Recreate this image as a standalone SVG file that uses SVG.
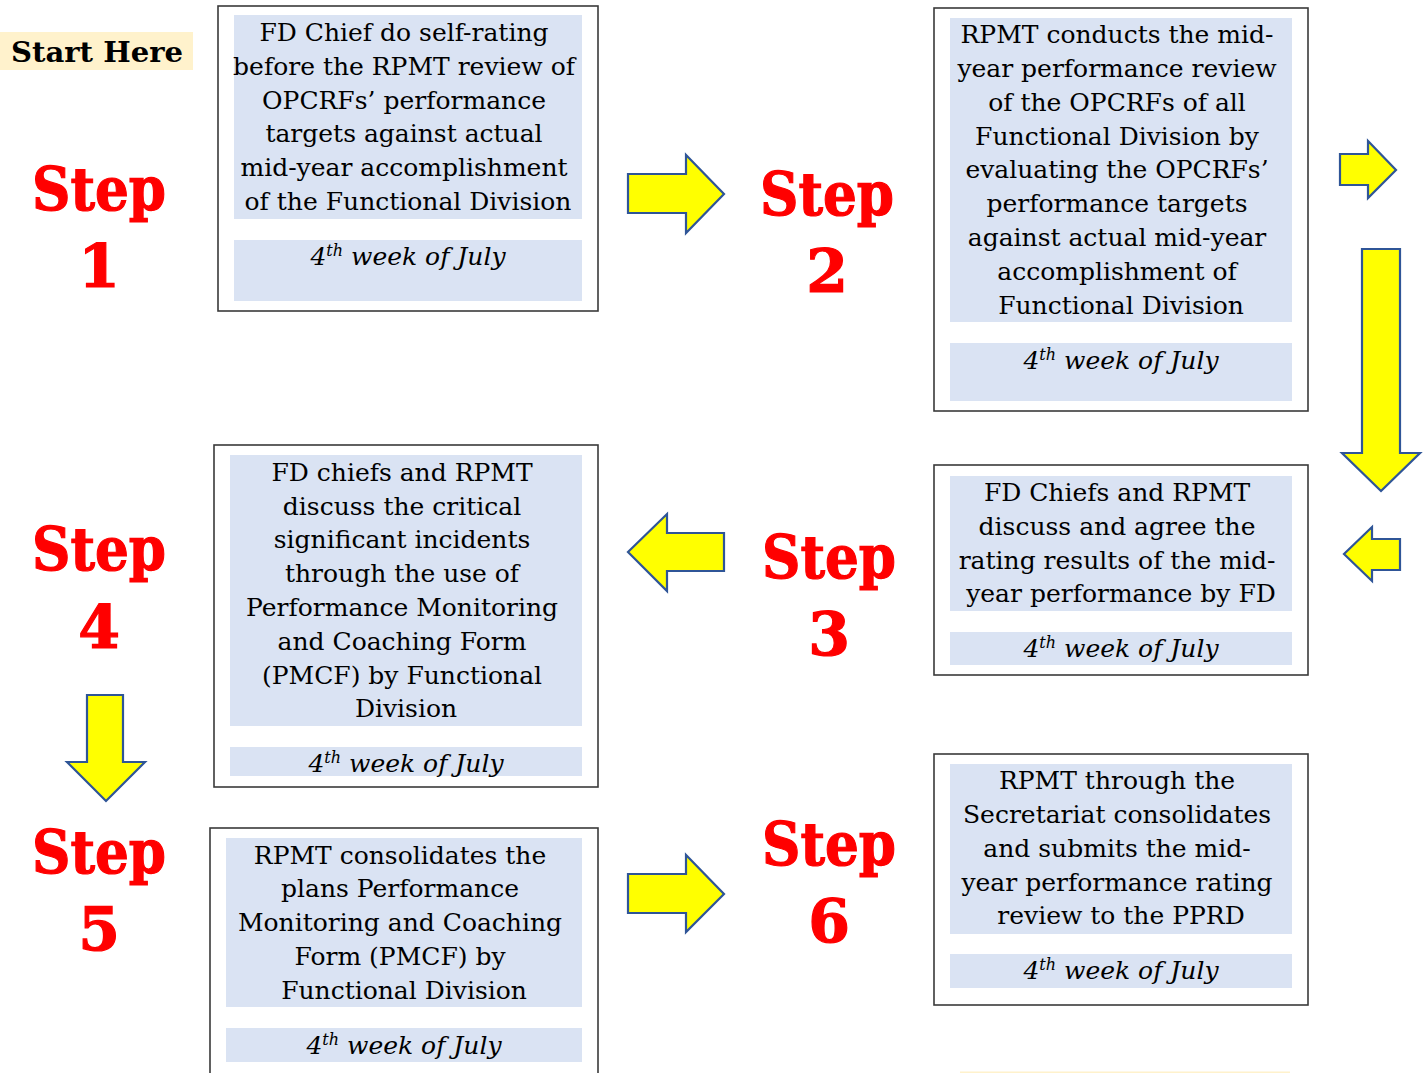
<svg xmlns="http://www.w3.org/2000/svg" width="1426" height="1073" viewBox="0 0 1426 1073">
  <style>
    .frame { fill: #ffffff; stroke: #3a3a3a; stroke-width: 1.6; }
    .band { fill: #dae3f3; }
    .body { font-family: "DejaVu Serif", "Liberation Serif", serif; font-size: 25px; fill: #000; text-anchor: middle; }
    .date { font-family: "DejaVu Serif", "Liberation Serif", serif; font-style: italic; font-size: 25px; fill: #000; text-anchor: middle; }
    .sup { font-size: 16px; }
    .step { font-family: "DejaVu Serif", "Liberation Serif", serif; font-weight: bold; font-size: 60px; fill: #ff0000; text-anchor: middle; stroke: #ff0000; stroke-width: 1.2; }
    .arrow { fill: #ffff00; stroke: #2f5597; stroke-width: 2.2; stroke-linejoin: miter; }
  </style>

  <!-- start label -->
  <g id="start">
    <rect x="0" y="32" width="193" height="38" fill="#fff2cc"/>
    <text x="11" y="62" font-family="DejaVu Serif, serif" font-weight="bold" font-size="27" textLength="172" lengthAdjust="spacingAndGlyphs" fill="#000">Start Here</text>
  </g>

  <!-- step labels -->
  <g id="step1-label">
    <text class="step" x="99" y="210" textLength="134" lengthAdjust="spacingAndGlyphs">Step</text>
    <text class="step" x="99" y="287">1</text>
  </g>
  <g id="step2-label">
    <text class="step" x="827" y="215" textLength="134" lengthAdjust="spacingAndGlyphs">Step</text>
    <text class="step" x="827" y="292">2</text>
  </g>
  <g id="step3-label">
    <text class="step" x="829" y="578" textLength="134" lengthAdjust="spacingAndGlyphs">Step</text>
    <text class="step" x="829" y="655">3</text>
  </g>
  <g id="step4-label">
    <text class="step" x="99" y="570" textLength="134" lengthAdjust="spacingAndGlyphs">Step</text>
    <text class="step" x="99" y="648">4</text>
  </g>
  <g id="step5-label">
    <text class="step" x="99" y="873" textLength="134" lengthAdjust="spacingAndGlyphs">Step</text>
    <text class="step" x="99" y="950">5</text>
  </g>
  <g id="step6-label">
    <text class="step" x="829" y="865" textLength="134" lengthAdjust="spacingAndGlyphs">Step</text>
    <text class="step" x="829" y="942">6</text>
  </g>

  <!-- step 1 box -->
  <g id="box1">
    <rect class="frame" x="218" y="6" width="380" height="305"/>
    <rect class="band" x="234" y="15" width="348" height="204"/>
    <rect class="band" x="234" y="240" width="348" height="61"/>
    <text class="body">
      <tspan x="408" y="41">FD Chief do self-rating</tspan>
      <tspan x="408" y="75">before the RPMT review of</tspan>
      <tspan x="408" y="109">OPCRFs’ performance</tspan>
      <tspan x="408" y="142">targets against actual</tspan>
      <tspan x="408" y="176">mid-year accomplishment</tspan>
      <tspan x="408" y="210">of the Functional Division</tspan>
    </text>
    <text class="date" x="408" y="265">4<tspan class="sup" dy="-9">th</tspan><tspan dy="9"> week of July</tspan></text>
  </g>

  <!-- step 2 box -->
  <g id="box2">
    <rect class="frame" x="934" y="8" width="374" height="403"/>
    <rect class="band" x="950" y="18" width="342" height="304"/>
    <rect class="band" x="950" y="343" width="342" height="58"/>
    <text class="body">
      <tspan x="1121" y="43">RPMT conducts the mid-</tspan>
      <tspan x="1121" y="77">year performance review</tspan>
      <tspan x="1121" y="111">of the OPCRFs of all</tspan>
      <tspan x="1121" y="145">Functional Division by</tspan>
      <tspan x="1121" y="178">evaluating the OPCRFs’</tspan>
      <tspan x="1121" y="212">performance targets</tspan>
      <tspan x="1121" y="246">against actual mid-year</tspan>
      <tspan x="1121" y="280">accomplishment of</tspan>
      <tspan x="1121" y="314">Functional Division</tspan>
    </text>
    <text class="date" x="1121" y="369">4<tspan class="sup" dy="-9">th</tspan><tspan dy="9"> week of July</tspan></text>
  </g>

  <!-- step 3 box -->
  <g id="box3">
    <rect class="frame" x="934" y="465" width="374" height="210"/>
    <rect class="band" x="950" y="476" width="342" height="135"/>
    <rect class="band" x="950" y="632" width="342" height="33"/>
    <text class="body">
      <tspan x="1121" y="501">FD Chiefs and RPMT</tspan>
      <tspan x="1121" y="535">discuss and agree the</tspan>
      <tspan x="1121" y="569">rating results of the mid-</tspan>
      <tspan x="1121" y="602">year performance by FD</tspan>
    </text>
    <text class="date" x="1121" y="657">4<tspan class="sup" dy="-9">th</tspan><tspan dy="9"> week of July</tspan></text>
  </g>

  <!-- step 4 box -->
  <g id="box4">
    <rect class="frame" x="214" y="445" width="384" height="342"/>
    <rect class="band" x="230" y="455" width="352" height="271"/>
    <rect class="band" x="230" y="747" width="352" height="29"/>
    <text class="body">
      <tspan x="406" y="481">FD chiefs and RPMT</tspan>
      <tspan x="406" y="515">discuss the critical</tspan>
      <tspan x="406" y="548">significant incidents</tspan>
      <tspan x="406" y="582">through the use of</tspan>
      <tspan x="406" y="616">Performance Monitoring</tspan>
      <tspan x="406" y="650">and Coaching Form</tspan>
      <tspan x="406" y="684">(PMCF) by Functional</tspan>
      <tspan x="406" y="717">Division</tspan>
    </text>
    <text class="date" x="406" y="772">4<tspan class="sup" dy="-9">th</tspan><tspan dy="9"> week of July</tspan></text>
  </g>

  <!-- step 5 box -->
  <g id="box5">
    <rect class="frame" x="210" y="828" width="388" height="260"/>
    <rect class="band" x="226" y="838" width="356" height="169"/>
    <rect class="band" x="226" y="1028" width="356" height="34"/>
    <text class="body">
      <tspan x="404" y="864">RPMT consolidates the</tspan>
      <tspan x="404" y="897">plans Performance</tspan>
      <tspan x="404" y="931">Monitoring and Coaching</tspan>
      <tspan x="404" y="965">Form (PMCF) by</tspan>
      <tspan x="404" y="999">Functional Division</tspan>
    </text>
    <text class="date" x="404" y="1054">4<tspan class="sup" dy="-9">th</tspan><tspan dy="9"> week of July</tspan></text>
  </g>

  <!-- step 6 box -->
  <g id="box6">
    <rect class="frame" x="934" y="754" width="374" height="251"/>
    <rect class="band" x="950" y="764" width="342" height="170"/>
    <rect class="band" x="950" y="954" width="342" height="34"/>
    <text class="body">
      <tspan x="1121" y="789">RPMT through the</tspan>
      <tspan x="1121" y="823">Secretariat consolidates</tspan>
      <tspan x="1121" y="857">and submits the mid-</tspan>
      <tspan x="1121" y="891">year performance rating</tspan>
      <tspan x="1121" y="924">review to the PPRD</tspan>
    </text>
    <text class="date" x="1121" y="979">4<tspan class="sup" dy="-9">th</tspan><tspan dy="9"> week of July</tspan></text>
  </g>

  <!-- edge of a highlight strip at the bottom -->
  <rect x="960" y="1071.5" width="330" height="2" fill="#fff2cc"/>

  <!-- block arrows -->
  <g id="connectors">
    <polygon class="arrow" points="628,174 686,174 686,155 724,194 686,233 686,213 628,213"/>
    <polygon class="arrow" points="1340,154 1368,154 1368,141 1396,170 1368,198 1368,185 1340,185"/>
    <polygon class="arrow" points="1362,249 1400,249 1400,453 1420,453 1381,491 1342,453 1362,453"/>
    <polygon class="arrow" points="1400,539 1372,539 1372,527 1344,554 1372,581 1372,570 1400,570"/>
    <polygon class="arrow" points="724,533 667,533 667,514 628,552 667,591 667,571 724,571"/>
    <polygon class="arrow" points="87,695 123,695 123,762 145,762 106,801 67,762 87,762"/>
    <polygon class="arrow" points="628,874 686,874 686,855 724,894 686,932 686,913 628,913"/>
  </g>
</svg>
